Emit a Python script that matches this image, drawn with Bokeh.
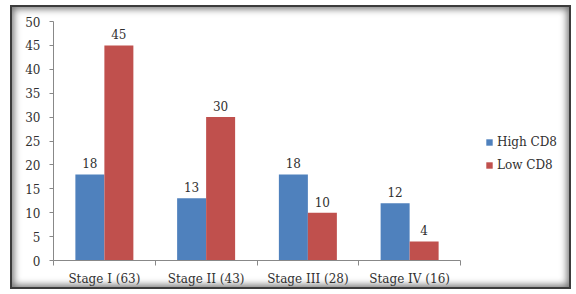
from bokeh.plotting import figure
from bokeh.models import ColumnDataSource, FixedTicker, Legend, LegendItem, LabelSet, Range1d
from bokeh.core.properties import value
from bokeh.embed import file_html
from bokeh.resources import INLINE

categories = ["Stage I (63)", "Stage II (43)", "Stage III (28)", "Stage IV (16)"]
high_cd8 = [18, 13, 18, 12]
low_cd8 = [45, 30, 10, 4]
series_names = ["High CD8", "Low CD8"]
y_ticks = [0, 5, 10, 15, 20, 25, 30, 35, 40, 45, 50]

FONT = "DejaVu Serif"
TXT = "#303030"
BLUE = "#4F81BD"
RED = "#C0504D"
BW = 0.285
N = len(categories)

centers = [i + 0.5 for i in range(N)]
src_h = ColumnDataSource(dict(x=[c - BW / 2 for c in centers], y=high_cd8, lab=[str(v) for v in high_cd8]))
src_l = ColumnDataSource(dict(x=[c + BW / 2 for c in centers], y=low_cd8, lab=[str(v) for v in low_cd8]))

p = figure(width=561, height=284, output_backend="svg", toolbar_location=None,
           x_range=Range1d(0, N * 520 / 407), y_range=Range1d(0, 50),
           min_border_left=41, min_border_right=0, min_border_top=14, min_border_bottom=31)
p.styles = {"border": "2px solid #3c3c3c", "margin": "5px 0 0 10px",
            "box-shadow": "inset 0 0 7px 2px rgba(0,0,0,0.55)"}
p.background_fill_color = None
p.border_fill_color = None
p.outline_line_color = None
p.xgrid.visible = False
p.ygrid.visible = False

rh = p.vbar(x="x", top="y", width=BW, source=src_h, fill_color=BLUE, line_color=None)
rl = p.vbar(x="x", top="y", width=BW, source=src_l, fill_color=RED, line_color=None)

for src in (src_h, src_l):
    p.add_layout(LabelSet(x="x", y="y", text="lab", source=src, text_align="center",
                          text_baseline="bottom", y_offset=6, text_font=value(FONT),
                          text_font_size="12px", text_color=TXT))

p.yaxis.ticker = FixedTicker(ticks=y_ticks)
p.yaxis.axis_line_color = "#888888"
p.yaxis.major_tick_line_color = "#888888"
p.yaxis.major_tick_in = 0
p.yaxis.major_tick_out = 4
p.yaxis.minor_tick_line_color = None
p.yaxis.major_label_standoff = 9
p.yaxis.major_label_text_font = FONT
p.yaxis.major_label_text_font_size = "12px"
p.yaxis.major_label_text_color = TXT

p.xaxis.bounds = (0, N)
p.xaxis.ticker = FixedTicker(ticks=centers, minor_ticks=list(range(N + 1)))
p.xaxis.major_label_overrides = {c: n for c, n in zip(centers, categories)}
p.xaxis.axis_line_color = "#888888"
p.xaxis.major_tick_line_color = None
p.xaxis.minor_tick_line_color = "#888888"
p.xaxis.minor_tick_in = 0
p.xaxis.minor_tick_out = 5
p.xaxis.major_label_standoff = 5
p.xaxis.major_label_text_font = FONT
p.xaxis.major_label_text_font_size = "12px"
p.xaxis.major_label_text_color = TXT

legend = Legend(items=[LegendItem(label=series_names[0], renderers=[rh]),
                       LegendItem(label=series_names[1], renderers=[rl])],
                location=(432, 87), orientation="vertical",
                glyph_width=8, glyph_height=8, label_height=16, spacing=7,
                padding=0, margin=0, label_standoff=4,
                label_text_font=FONT, label_text_font_size="12px", label_text_color=TXT,
                background_fill_alpha=0, border_line_color=None)
p.add_layout(legend)

open("out.html", "w").write(file_html(p, INLINE))
